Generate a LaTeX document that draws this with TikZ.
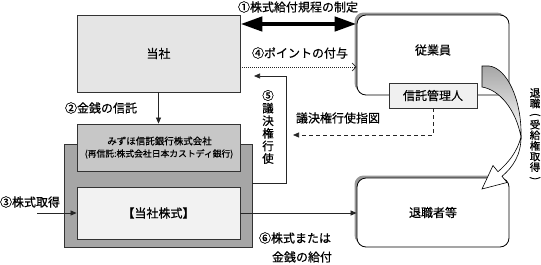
\documentclass[tikz,border=0pt]{standalone}
\usepackage{fontspec}
\setmainfont{Noto Sans CJK JP}[FakeBold=0.5]
\usetikzlibrary{arrows.meta,calc}
\newcommand{\vparopen}{\rotatebox[origin=c]{-90}{(}}
\newcommand{\vparclose}{\rotatebox[origin=c]{-90}{)}}
\begin{document}
\begin{tikzpicture}[x=1pt,y=-1pt,
  sqbox/.style={draw=black!80,line width=0.8pt,inner sep=0pt,align=center},
  rbox/.style={draw=black,line width=0.8pt,rounded corners=9pt,fill=white,inner sep=0pt},
  shadowbox/.style={fill=black!40,rounded corners=9pt},
  lbl/.style={inner sep=0pt,font=\fontsize{12}{14}\selectfont},
  vlbl/.style={inner sep=0pt,align=center},
  conn/.style={draw=black!85,line width=0.7pt},
  tri/.style={-{Triangle[length=6pt,width=5pt]}},
  big/.style={font=\fontsize{12}{14}\selectfont}
]
\fill[white] (0,0) rectangle (541,265);
\path[use as bounding box] (0,0) rectangle (541,265);

% ---- left column
\node[sqbox,big,fill=black!10,minimum width=163pt,minimum height=77pt] (tosha) at (158.5,53.5) {当社};
\node[sqbox,fill=black!35,minimum width=188pt,minimum height=103pt] (trust) at (158,195.5) {};
\node[sqbox,fill=black!22,minimum width=163pt,minimum height=47pt] (mizuho) at (158.5,147.5) {};
\node[inner sep=0pt,font=\fontsize{9.5}{11}\selectfont] (mz1) at (159.5,141) {みずほ信託銀行株式会社};
\node[inner sep=0pt,font=\fontsize{8.8}{11}\selectfont] (mz2) at (159,154) {(再信託:株式会社日本カストディ銀行)};
\node[sqbox,big,fill=black!5,minimum width=163pt,minimum height=52pt] (kabu) at (158.5,213) {【当社株式】};

% ---- right column
\fill[shadowbox] (354.5,12.5) rectangle (506,92);
\node[rbox,minimum width=152pt,minimum height=80pt] (emp) at (433,55) {};
\node[lbl] (empt) at (433,50) {従業員};
\node[sqbox,big,fill=black!6,minimum width=88pt,minimum height=25pt] (trustee) at (433,95.5) {信託管理人};
\fill[shadowbox] (354.5,175.5) rectangle (506,244);
\node[rbox,big,minimum width=152pt,minimum height=69pt] (ret) at (433,212.5) {退職者等};

% ---- connectors
\draw[conn,tri] (tosha.south) -- (mizuho.north);
\node[lbl] (l2) at (101,108) {②金銭の信託};

\coordinate (a1l) at (240,24);
\draw[black,line width=4.5pt,{Triangle[length=22pt,width=14pt]}-{Triangle[length=22pt,width=14pt]}]
  (tosha.east |- a1l) -- (emp.west |- a1l);
\node[lbl] (l1) at (298,7) {①株式給付規程の制定};

\coordinate (a4) at (240,67);
\draw[black!85,line width=0.7pt,dash pattern=on 1pt off 1pt,-{Straight Barb[length=4pt,width=8pt]}]
  (tosha.east |- a4) -- (emp.west |- a4);
\node[lbl] (l4) at (300,53) {④ポイントの付与};

\coordinate (v5a) at (286,183);
\coordinate (v5b) at (286,76);
\coordinate (v5e) at (254,76);
\draw[conn,tri] (trust.east |- v5a) -- (v5a) -- (v5b) -- (v5e);
\node[vlbl,font=\fontsize{11.5}{12.6}\selectfont] (l5) at (268,127) {⑤\\議\\決\\権\\行\\使};

\coordinate (d1) at (433,135);
\coordinate (d2) at (293,135);
\draw[conn,dash pattern=on 4pt off 3pt,tri] (trustee.south) -- (d1) -- (d2);
\node[lbl] (lsz) at (338,118) {議決権行使指図};

\coordinate (s3) at (37,213);
\draw[conn,tri] (s3) -- (kabu.west);
\node[lbl] (l3) at (30,202) {③株式取得};

\draw[conn,tri] (kabu.east) -- (kabu.east -| ret.west);
\node[lbl] (l6a) at (295,238) {⑥株式または};
\node[lbl] (l6b) at (302,257) {金銭の給付};

\node[vlbl,font=\fontsize{10.5}{10.6}\selectfont] (lret) at (535,135) {退\\職\\\vparopen\\受\\給\\権\\取\\得\\\vparclose};

% ---- curved arrow
\shade[top color=black!35,bottom color=white,draw=black,line width=0.6pt]
  (482,66) -- (489,66) .. controls (507,68) and (522,100) .. (521,137)
  .. controls (516,110) and (500,90) .. (482,87) -- cycle;
\filldraw[fill=white,draw=black,line width=0.6pt]
  (521,137) .. controls (521,155) and (513,167) .. (502,176.3)
  -- (507,182.5) -- (482,189) -- (493,165.5) -- (498,171.7)
  .. controls (509,162) and (517,152) .. (521,137) -- cycle;
\end{tikzpicture}
\end{document}
